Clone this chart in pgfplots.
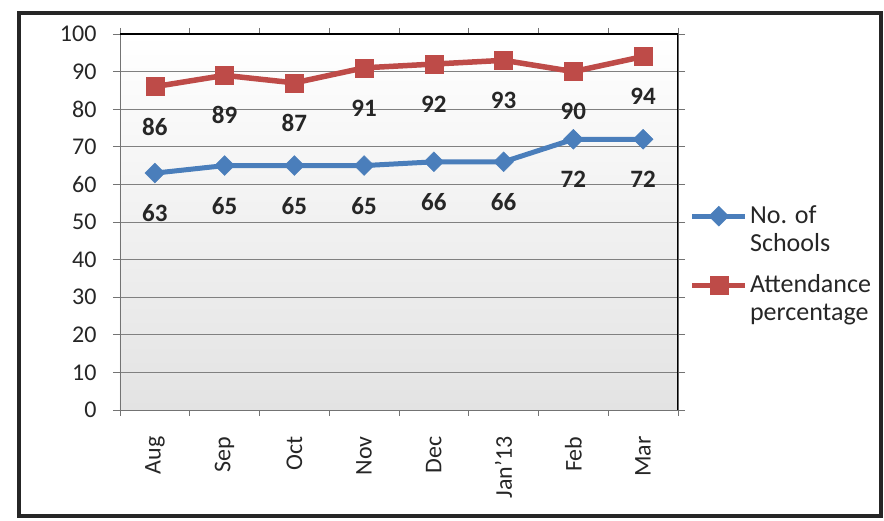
\documentclass[border=0pt]{standalone}
\usepackage{pgfplots}
\pgfplotsset{compat=1.18}
\usepackage{fontspec}
\setmainfont{Carlito}
\definecolor{xlblue}{HTML}{4A7EBB}
\definecolor{xlred}{HTML}{BE4B48}
\begin{document}
\begin{tikzpicture}[x=1pt,y=1pt]
\path[use as bounding box] (0,0) rectangle (884,521);
\draw[line width=4.5pt, black!85] (19,5) rectangle (881,508);
\begin{axis}[
  at={(120pt,111pt)}, anchor=south west,
  scale only axis, width=558pt, height=376pt,
  xmin=-0.5, xmax=7.5, ymin=0, ymax=100,
  xtick={0,...,7},
  xticklabels={Aug,Sep,Oct,Nov,Dec,Jan'13,Feb,Mar},
  major x tick style={draw=none},
  minor xtick={-0.5,0.5,...,7.5},
  ytick={0,10,...,100},
  tick align=outside,
  major tick length=7pt, minor tick length=6pt,
  tick style={black!55, line width=0.8pt},
  ymajorgrids, grid style={black!50, line width=0.8pt},
  axis line style={black!55, line width=0.8pt},
  axis background/.style={shade, top color=white, bottom color=black!11},
  /pgf/number format/assume math mode=true,
  ticklabel style={font=\fontsize{24}{26}\selectfont, text=black!85},
  xticklabel shift=16pt,
  xticklabel style={rotate=90, anchor=east},
  yticklabel style={xshift=-13pt},
  legend cell align=left,
  legend style={at={(1.015,0.555)}, anchor=north west, draw=none, fill=none,
    font=\fontsize{26}{28}\selectfont, cells={align=left}, row sep=18pt,
    text=black!85},
  legend image code/.code={\draw[mark repeat=2,mark phase=2,#1] plot coordinates {(0pt,13pt) (26.5pt,13pt) (53pt,13pt)};},
  nodes near coords,
  every node near coord/.append style={anchor=center, yshift=-40pt,
    font=\bfseries\fontsize{25}{27}\selectfont, text=black!85},
]
\addplot[xlblue, line width=5pt, mark=square*, mark size=7pt,
  mark options={rotate=45, solid, fill=xlblue, draw=xlblue, line width=0.5pt}]
  coordinates {(0,63) (1,65) (2,65) (3,65) (4,66) (5,66) (6,72) (7,72)};
\addlegendentry{No. of\\Schools}
\addplot[xlred, line width=5.5pt, mark=square*, mark size=9pt,
  mark options={solid, fill=xlred, draw=xlred, line width=0.5pt}]
  coordinates {(0,86) (1,89) (2,87) (3,91) (4,92) (5,93) (6,90) (7,94)};
\addlegendentry{Attendance\\percentage}
\draw[black, line width=1.6pt] (rel axis cs:0,1) -- (rel axis cs:1,1) -- (rel axis cs:1,0);
\end{axis}
\end{tikzpicture}
\end{document}
